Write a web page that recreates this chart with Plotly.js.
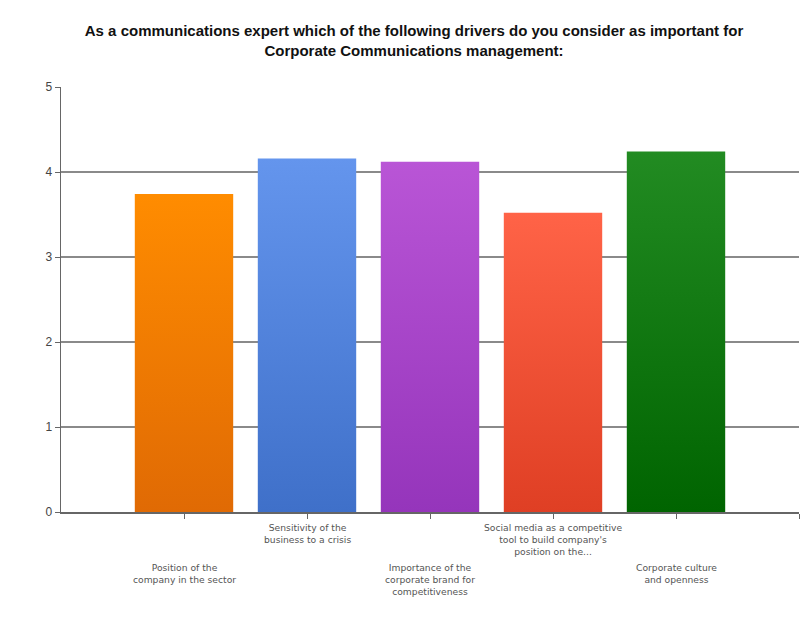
<!DOCTYPE html>
<html>
<head>
<meta charset="utf-8">
<script src="https://cdn.plot.ly/plotly-3.0.1.min.js"></script>
<style>
  html, body { margin: 0; padding: 0; background: #fff; }
  #chart { width: 812px; height: 617px; }
</style>
</head>
<body>
<div id="chart"></div>
<script>
// Survey drivers and their mean importance scores
const categories = [
  "Position of the<br>company in the sector",
  "Sensitivity of the<br>business to a crisis",
  "Importance of the<br>corporate brand for<br>competitiveness",
  "Social media as a competitive<br>tool to build company's<br>position on the...",
  "Corporate culture<br>and openness"
];
const scores = [3.74, 4.16, 4.12, 3.52, 4.24];
const positions = [0, 1, 2, 3, 4];

// Top / bottom colours of each bar's vertical gradient
const topColors = ["#ff8c00", "#6495ed", "#b955d6", "#ff6347", "#228b22"];
const bottomColors = ["#e06a04", "#3f70c9", "#9535bb", "#df3f24", "#006400"];

// Labels alternate between a high and a low row
const labelRow = [1, 0, 1, 0, 1];

const trace = {
  type: "bar",
  x: positions,
  y: scores,
  width: 0.8,
  marker: { color: topColors, line: { width: 0 } },
  hoverinfo: "none"
};

const annotations = categories.map((txt, i) => ({
  x: positions[i],
  y: 0,
  xref: "x",
  yref: "paper",
  yanchor: "top",
  xanchor: "center",
  yshift: labelRow[i] ? -48 : -8,
  text: txt,
  showarrow: false,
  align: "center",
  font: { family: "DejaVu Sans, sans-serif", size: 9.2, color: "#555" }
}));

const layout = {
  width: 812,
  height: 617,
  margin: { l: 61, r: 13, t: 87, b: 105 },
  paper_bgcolor: "#fff",
  plot_bgcolor: "#fff",
  title: {
    text: "<b>As a communications expert which of the following drivers do you consider as important for<br>Corporate Communications management:</b>",
    x: 414 / 812,
    xref: "container",
    xanchor: "center",
    y: 1 - 36 / 617,
    yanchor: "top",
    font: { family: "Liberation Sans, Arial, sans-serif", size: 15, color: "#111" }
  },
  xaxis: {
    range: [-1, 5],
    tickvals: [0, 1, 2, 3, 4, 5],
    showticklabels: false,
    ticks: "outside",
    ticklen: 5,
    tickcolor: "#666",
    showgrid: false,
    zeroline: false,
    showline: true,
    linecolor: "#666",
    linewidth: 1.5,
    fixedrange: true
  },
  yaxis: {
    range: [0, 5],
    dtick: 1,
    ticks: "outside",
    ticklen: 5,
    tickcolor: "#666",
    showgrid: true,
    gridcolor: "#8a8a8a",
    gridwidth: 1.5,
    zeroline: false,
    showline: true,
    linecolor: "#666",
    linewidth: 1.5,
    tickfont: { family: "Liberation Sans, Arial, sans-serif", size: 12, color: "#444" },
    fixedrange: true
  },
  bargap: 0.2,
  showlegend: false,
  annotations: annotations
};

Plotly.newPlot("chart", [trace], layout, { displayModeBar: false, staticPlot: true }).then(gd => {
  // Give each bar a vertical gradient fill
  const svgNS = "http://www.w3.org/2000/svg";
  const svg = gd.querySelector(".main-svg");
  let defs = svg.querySelector("defs");
  if (!defs) { defs = document.createElementNS(svgNS, "defs"); svg.insertBefore(defs, svg.firstChild); }
  topColors.forEach((c, i) => {
    const g = document.createElementNS(svgNS, "linearGradient");
    g.setAttribute("id", "barGrad" + i);
    g.setAttribute("x1", "0"); g.setAttribute("y1", "0");
    g.setAttribute("x2", "0"); g.setAttribute("y2", "1");
    [[0, c], [1, bottomColors[i]]].forEach(([o, col]) => {
      const s = document.createElementNS(svgNS, "stop");
      s.setAttribute("offset", String(o));
      s.setAttribute("stop-color", col);
      g.appendChild(s);
    });
    defs.appendChild(g);
  });
  gd.querySelectorAll(".bars .point path").forEach((p, i) => {
    p.style.fill = "url(#barGrad" + i + ")";
  });
});
</script>
</body>
</html>
